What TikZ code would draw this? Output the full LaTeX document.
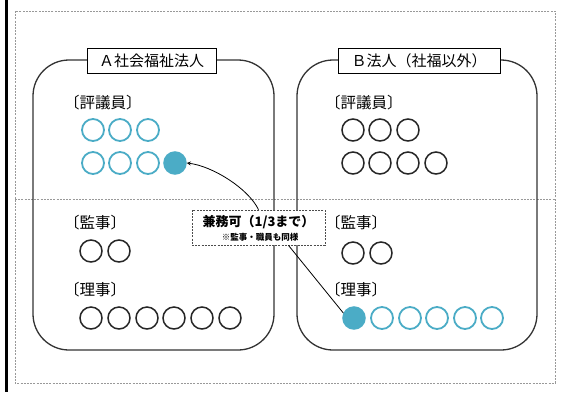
\documentclass[tikz,border=0pt]{standalone}
\usepackage{fontspec}
\setmainfont{Noto Sans CJK JP}
\usetikzlibrary{arrows}
\definecolor{hellblau}{HTML}{4BACC6}
\tikzset{kreis/.style={circle,draw=black!85,line width=1.5pt,minimum size=22pt,inner sep=0pt},
  blaukreis/.style={kreis,draw=hellblau,line width=1.8pt},
  vollkreis/.style={kreis,draw=hellblau,fill=hellblau},
  rahmen/.style={draw=black!80,line width=1.3pt,rounded corners=36pt},
  titel/.style={draw,fill=white,line width=1pt,minimum height=25pt,inner sep=0pt,font=\fontsize{15}{18}\selectfont},
  gruppe/.style={anchor=west,inner sep=0pt,font=\fontsize{15.5}{18}\selectfont},
  hinweis/.style={draw=black!70,fill=white,line width=0.8pt,dash pattern=on 2pt off 1.2pt,minimum width=133pt,minimum height=35pt},
  strich/.style={draw=black!40,line width=0.8pt,dash pattern=on 2pt off 1.2pt}}

\begin{document}
\begin{tikzpicture}[x=1pt,y=-1pt,>=stealth]
    \useasboundingbox (0,0) rectangle (561,392);
    \draw[line width=2.5pt] (6.5,0) -- (6.5,392);
    \draw[strich] (15,11) rectangle (555,383);
    \draw[strich] (15,199) -- (555,199);
    \draw[rahmen] (33,60) rectangle (274,350);
    \draw[rahmen] (297,60) rectangle (537,350);

    \path node [titel, minimum width=129pt] (1) at (151.5,60.5) {Ａ社会福祉法人}
          node [titel, minimum width=162pt] (2) at (419,60.5) {Ｂ法人（社福以外）}

          node [gruppe] (33) at (64,103) {〔評議員〕}
          node [blaukreis] (3) at (93,130) {}
          node [blaukreis] (4) at (120,130) {}
          node [blaukreis] (5) at (148,130) {}
          node [blaukreis] (6) at (93,163) {}
          node [blaukreis] (7) at (120,163) {}
          node [blaukreis] (8) at (148,163) {}
          node [vollkreis] (9) at (175,163) {}
          node [gruppe] (34) at (64,223) {〔監事〕}
          node [kreis] (10) at (91,251) {}
          node [kreis] (11) at (119,251) {}
          node [gruppe] (35) at (64,290) {〔理事〕}
          node [kreis] (12) at (91,318) {}
          node [kreis] (13) at (119,318) {}
          node [kreis] (14) at (147,318) {}
          node [kreis] (15) at (174,318) {}
          node [kreis] (16) at (202,318) {}
          node [kreis] (17) at (230,318) {}

          node [gruppe] (36) at (325,103) {〔評議員〕}
          node [kreis] (18) at (353,130) {}
          node [kreis] (19) at (380,130) {}
          node [kreis] (20) at (408,130) {}
          node [kreis] (21) at (353,163) {}
          node [kreis] (22) at (380,163) {}
          node [kreis] (23) at (408,163) {}
          node [kreis] (24) at (436,163) {}
          node [gruppe] (37) at (325,223) {〔監事〕}
          node [kreis] (25) at (353,253) {}
          node [kreis] (26) at (381,253) {}
          node [gruppe] (38) at (325,290) {〔理事〕}
          node [vollkreis] (27) at (354,318) {}
          node [blaukreis] (28) at (382,318) {}
          node [blaukreis] (29) at (410,318) {}
          node [blaukreis] (30) at (437,318) {}
          node [blaukreis] (31) at (465,318) {}
          node [blaukreis] (32) at (492,318) {}

          node [hinweis] (39) at (258.5,227.5) {}
          node [font=\fontsize{13}{15}\selectfont\bfseries] (40) at (258.5,222) {兼務可（1/3まで）}
          node [font=\fontsize{8.5}{10}\selectfont\bfseries] (41) at (260,237) {※監事・職員も同様};

    \draw[->, line width=0.8pt] (39.north) .. controls (248,188) and (212,166) .. (9.east);
    \draw[line width=0.8pt] ([xshift=30pt]39.south) -- (27.155);
\end{tikzpicture}
\end{document}
